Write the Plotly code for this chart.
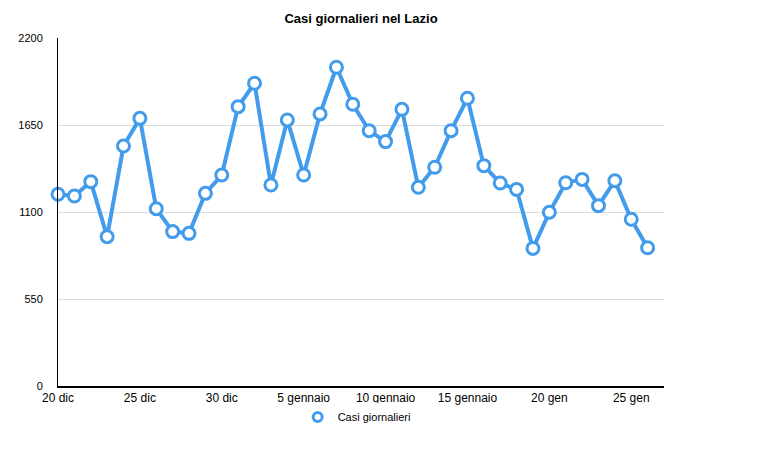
import plotly.graph_objects as go

days = list(range(37))
casi = [1212, 1201, 1292, 944, 1517, 1692, 1121, 976, 965, 1218,
        1334, 1766, 1914, 1271, 1682, 1334, 1720, 2015, 1781, 1614,
        1545, 1749, 1256, 1383, 1614, 1819, 1393, 1283, 1243, 870,
        1098, 1285, 1306, 1140, 1298, 1054, 874]
tick_pos = [0, 5, 10, 15, 20, 25, 30, 35]
tick_labels = ["20 dic", "25 dic", "30 dic", "5 gennaio", "10 gennaio",
               "15 gennaio", "20 gen", "25 gen"]
y_ticks = [0, 550, 1100, 1650, 2200]

blue = "rgb(66,156,235)"
font = "Liberation Sans, Arial, Helvetica, sans-serif"

fig = go.Figure()
fig.add_trace(go.Scatter(
    x=days, y=casi, mode="lines+markers", name="Casi giornalieri",
    line=dict(color=blue, width=4),
    marker=dict(symbol="circle", size=12, color="white",
                line=dict(color=blue, width=3)),
    showlegend=False, cliponaxis=False, hoverinfo="x+y"))
fig.add_trace(go.Scatter(
    x=[None], y=[None], mode="markers", name="Casi giornalieri",
    marker=dict(symbol="circle", size=9, color="white",
                line=dict(color=blue, width=3)),
    showlegend=True))

fig.update_layout(
    width=767, height=462,
    margin=dict(l=58, r=103, t=38, b=76, autoexpand=False),
    paper_bgcolor="white", plot_bgcolor="white",
    font=dict(family=font, size=11, color="black"),
    title=dict(text="<b>Casi giornalieri nel Lazio</b>", x=(58 + 664) / 2 / 767,
               xanchor="center", y=1 - 18 / 462, yanchor="middle",
               font=dict(size=13, family=font, color="black")),
    xaxis=dict(range=[0, 37], tickvals=tick_pos, ticktext=tick_labels,
               showgrid=False, zeroline=False, showline=True,
               linecolor="black", linewidth=1.5, ticks="",
               tickfont=dict(size=12), fixedrange=True),
    yaxis=dict(range=[0, 2200], tickvals=y_ticks, showgrid=True,
               gridcolor="#dcdcdc", gridwidth=1, zeroline=False,
               showline=True, linecolor="black", linewidth=1, ticks="",
               ticklabelstandoff=12, tickfont=dict(size=11), fixedrange=True),
    legend=dict(orientation="h", xref="container", yref="container",
                x=0.465, xanchor="center", y=1 - 417 / 462, yanchor="middle",
                font=dict(size=11), itemwidth=30),
    showlegend=True,
)

fig.write_html("out.html")
